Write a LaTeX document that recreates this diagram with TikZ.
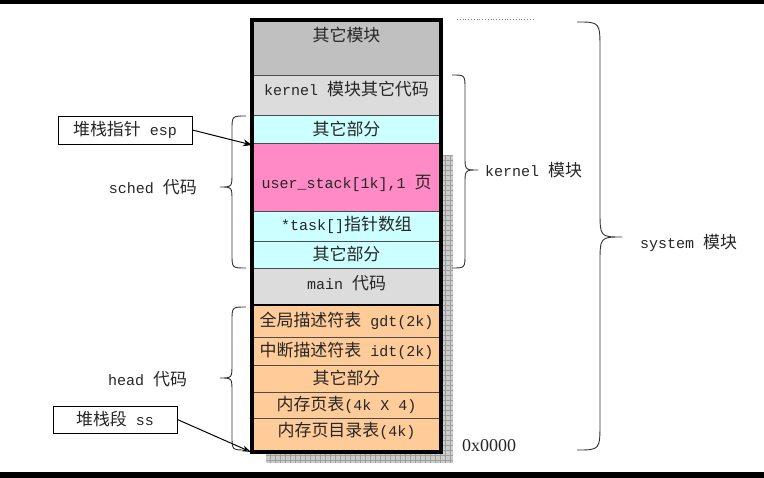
\documentclass[tikz,border=0pt]{standalone}
\usepackage{fontspec}
\setmainfont{Liberation Mono}
\newfontfamily\cjk[Scale=1.13]{Noto Sans CJK SC}
\newfontfamily\serifnum{Liberation Serif}
\usetikzlibrary{arrows.meta}
\newcommand\zh[1]{{\cjk #1}}
\definecolor{cgray}{HTML}{C0C0C0}
\definecolor{clight}{HTML}{DCDCDC}
\definecolor{ccyan}{HTML}{CCFFFF}
\definecolor{cpink}{HTML}{FF8AC6}
\definecolor{corange}{HTML}{FFCC99}
\begin{document}
\begin{tikzpicture}[x=1pt,y=-1pt,
  every node/.style={font=\fontsize{15}{17}\selectfont, text=black!85, inner sep=0pt},
  rowbox/.style={draw=black!70, line width=0.8pt},
  callout/.style={draw=black, line width=0.8pt, fill=white},
  bracepath/.style={draw=black!80, line width=0.9pt},
  ]
\useasboundingbox (0,0) rectangle (764,478);
\fill[black] (0,0) rectangle (764,4);
\fill[black] (0,472) rectangle (764,478);

% shadow
\fill[gray!40] (441,155) rectangle (453,463);
\fill[gray!40] (266,452) rectangle (453,463);
\draw[gray!75, line width=0.4pt, step=5pt] (441,155) grid (453,463);
\draw[gray!75, line width=0.4pt, step=5pt] (266,452) grid (453,463);

% rows
\foreach \ya/\yb/\c in {20/75/cgray, 75/115/clight, 115/143/ccyan, 143/211/cpink, 211/241/ccyan, 241/268/ccyan, 268/305/clight, 305/337/corange, 337/365/corange, 365/392/corange, 392/418/corange, 418/452/corange}
  \path[rowbox, fill=\c] (252,\ya) rectangle (441,\yb);
\draw[line width=1.8pt] (252,305) -- (441,305);
\draw[line width=3.2pt] (252,20) rectangle (441,452);

% row texts
\node (t1) at (346.5,35) {\zh{其它模块}};
\node (t2) at (346.5,89) {kernel \zh{模块其它代码}};
\node (t3) at (346.5,129) {\zh{其它部分}};
\node (t4) at (346.5,183) {user\_stack[1k],1 \zh{页}};
\node (t5) at (346.5,225) {*task[]\zh{指针数组}};
\node (t6) at (346.5,254) {\zh{其它部分}};
\node (t7) at (346.5,283) {main \zh{代码}};
\node (t8) at (346.5,321) {\zh{全局描述符表} gdt(2k)};
\node (t9) at (346.5,351) {\zh{中断描述符表} idt(2k)};
\node (t10) at (346.5,378) {\zh{其它部分}};
\node (t11) at (346.5,405) {\zh{内存页表}(4k X 4)};
\node (t12) at (346.5,431) {\zh{内存页目录表}(4k)};

% top dotted mark
\draw[gray, dotted, line width=0.8pt] (457,19) -- (535,19);

% braces
\draw[bracepath] (577,22) .. controls (600,22) .. (600,50) -- (600,210) .. controls (600,237) .. (622,237) .. controls (600,237) .. (600,264) -- (600,422) .. controls (600,450) .. (577,450);
\draw[bracepath] (452,75) .. controls (465,75) .. (465,89) -- (465,156) .. controls (465,170) .. (478,170) .. controls (465,170) .. (465,184) -- (465,254) .. controls (465,268) .. (452,268);
\draw[bracepath] (246,116) .. controls (232,116) .. (232,130) -- (232,173) .. controls (232,187) .. (220,187) .. controls (232,187) .. (232,201) -- (232,254) .. controls (232,268) .. (246,268);
\draw[bracepath] (246,307) .. controls (232,307) .. (232,321) -- (232,364) .. controls (232,378) .. (220,378) .. controls (232,378) .. (232,392) -- (232,436) .. controls (232,450) .. (246,450);

% labels
\node[anchor=west] (kl) at (485,170) {kernel \zh{模块}};
\node[anchor=west] (sl) at (640,243) {system \zh{模块}};
\node[anchor=east] (schl) at (197,187) {sched \zh{代码}};
\node[anchor=west] (hl) at (108,379) {head \zh{代码}};
\node[anchor=west, font=\serifnum\fontsize{18}{20}\selectfont] (addr) at (462,446) {0x0000};

% callouts
\node[callout, minimum width=134pt, minimum height=28pt] (esp) at (125,130) {\zh{堆栈指针} esp};
\node[callout, minimum width=124pt, minimum height=27pt] (ss) at (115,419.5) {\zh{堆栈段} ss};
\coordinate (espT) at (252,145);
\coordinate (ssT) at (251,452);
\draw[-{Stealth[length=9pt,width=7pt]}, line width=1pt] (esp.east) -- (espT);
\draw[-{Stealth[open,length=9pt,width=6pt]}, line width=1pt] (ss.east) -- (ssT);
\end{tikzpicture}
\end{document}
